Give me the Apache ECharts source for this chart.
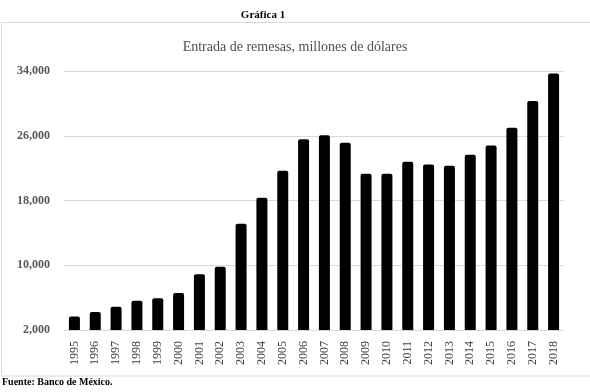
<!DOCTYPE html>
<html>
<head>
<meta charset="utf-8">
<script src="https://cdn.jsdelivr.net/npm/echarts@6/dist/echarts.min.js"></script>
<style>html,body{margin:0;padding:0;background:#fff;}#c{width:590px;height:392px;}</style>
</head>
<body>
<div id="c"></div>
<script>
const years = ['1995','1996','1997','1998','1999','2000','2001','2002','2003','2004','2005','2006','2007','2008','2009','2010','2011','2012','2013','2014','2015','2016','2017','2018'];
const remesas = [3673,4224,4865,5627,5910,6573,8895,9814,15139,18332,21688,25567,26059,25145,21306,21304,22803,22438,22303,23647,24785,26993,30291,33677];
const yTicks = {min:2000, max:34000, interval:8000};
const titleText = 'Entrada de remesas, millones de dólares';
const headText = 'Gráfica 1';
const sourceText = 'Fuente: Banco de México.';

const serif = '"Liberation Serif", "DejaVu Serif", serif';
const chart = echarts.init(document.getElementById('c'));
chart.setOption({
  animation:false,
  backgroundColor:'#ffffff',
  title:{text:titleText, left:'center', top:35,
    textStyle:{fontFamily:serif, fontSize:14, fontWeight:'normal', color:'#505050', textShadowColor:'#505050', textShadowBlur:0}},
  graphic:[
    {type:'rect', shape:{x:1.5, y:22.5, width:620, height:353.5},
      style:{fill:'none', stroke:'#d9d9d9', lineWidth:1}, silent:true},
    {type:'text', x:263, y:10, style:{text:headText, font:'bold 11px '+serif, fill:'#000', align:'center'}},
    {type:'text', left:2, top:377, style:{text:sourceText, font:'bold 10px '+serif, fill:'#000'}}
  ],
  grid:{left:64, right:26, top:71, bottom:62},
  xAxis:{type:'category', data:years,
    axisLine:{show:false}, axisTick:{show:false},
    axisLabel:{rotate:90, interval:0, margin:11, fontFamily:serif, fontSize:12, color:'#404040'}},
  yAxis:{type:'value', min:yTicks.min, max:yTicks.max, interval:yTicks.interval,
    axisLine:{show:false}, axisTick:{show:false},
    splitLine:{show:true, lineStyle:{color:'#d9d9d9', width:1}},
    axisLabel:{margin:14, fontFamily:serif, fontSize:12, fontWeight:'bold', color:'#595959',
      formatter:v=>v.toLocaleString('en-US')}},
  series:[{type:'bar', data:remesas, barWidth:11,
    itemStyle:{color:'#000000', borderRadius:[2,2,0,0]}}]
});
</script>
</body>
</html>
